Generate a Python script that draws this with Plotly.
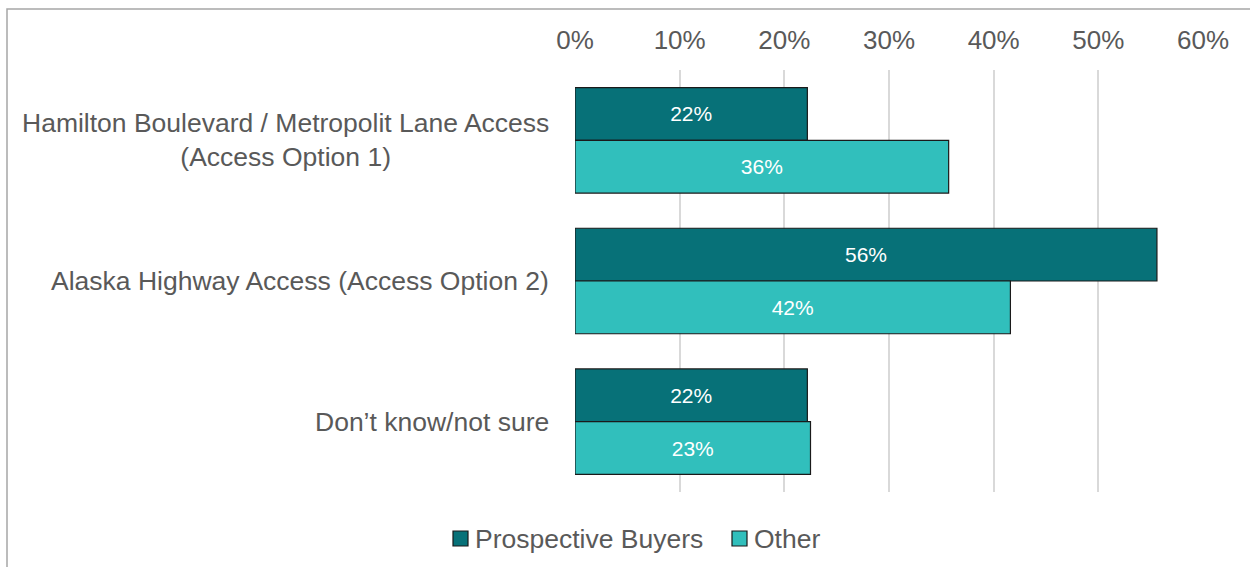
import plotly.graph_objects as go

# Survey results: preferred access option, split by respondent group
categories = [
    "Hamilton Boulevard / Metropolit Lane Access<br>(Access Option 1)",
    "Alaska Highway Access (Access Option 2)",
    "Don’t know/not sure",
]
series_names = ["Prospective Buyers", "Other"]
prospective_buyers = [22.2, 55.6, 22.2]
other = [35.7, 41.6, 22.5]
tick_values = [0, 10, 20, 30, 40, 50, 60]
tick_labels = ["0%", "10%", "20%", "30%", "40%", "50%", "60%"]

DARK = "#077178"
LIGHT = "#31BFBC"
TEXT_GRAY = "#595959"
FONT = "Liberation Sans, Arial, sans-serif"

# Plot-area geometry in pixels, used to place frame and legend in paper space
L, R, T, B = 575, 47, 70, 75
W, H = 1250, 567
PW, PH = W - L - R, H - T - B


def px_x(p):
    return (p - L) / PW


def px_y(p):
    return (H - B - p) / PH


fig = go.Figure()
for name, vals, color in zip(series_names, [prospective_buyers, other], [DARK, LIGHT]):
    fig.add_trace(go.Bar(
        name=name,
        y=categories,
        x=vals,
        orientation="h",
        marker=dict(color=color, line=dict(color="#1a1a1a", width=1.2)),
        text=vals,
        texttemplate="%{x:.0f}%",
        textposition="inside",
        insidetextanchor="middle",
        textangle=0,
        textfont=dict(color="white", size=21, family=FONT),
        hoverinfo="skip",
        showlegend=False,
    ))

# Category labels drawn as centred multi-line text, right-aligned to the axis
for cat in categories:
    fig.add_annotation(
        x=0, y=cat, xref="x", yref="y",
        text=cat, showarrow=False,
        xanchor="right", yanchor="middle", xshift=-24,
        align="center",
        font=dict(size=26.5, color=TEXT_GRAY, family=FONT),
    )

# Outer frame of the chart area
fig.add_shape(
    type="rect", xref="paper", yref="paper",
    x0=px_x(7), x1=px_x(1300), y0=px_y(600), y1=px_y(9),
    line=dict(color="#A6A6A6", width=1.5), fillcolor="rgba(0,0,0,0)",
    layer="below",
)

# Legend: outlined colour squares followed by series names
legend_items = [(series_names[0], DARK, 453), (series_names[1], LIGHT, 732)]
for name, color, left in legend_items:
    fig.add_shape(
        type="rect", xref="paper", yref="paper",
        x0=px_x(left), x1=px_x(left + 15), y0=px_y(546), y1=px_y(531),
        line=dict(color="#1a1a1a", width=1.2), fillcolor=color,
    )
    fig.add_annotation(
        x=px_x(left + 20), y=px_y(538.5), xref="paper", yref="paper",
        text=name, showarrow=False, xanchor="left", yanchor="middle",
        font=dict(size=26.5, color=TEXT_GRAY, family=FONT),
    )

fig.update_layout(
    width=W, height=H,
    margin=dict(l=L, r=R, t=T, b=B),
    paper_bgcolor="white", plot_bgcolor="white",
    barmode="group", bargap=0.25, bargroupgap=0,
    font=dict(family=FONT, color=TEXT_GRAY),
    xaxis=dict(
        side="top", range=[0, 60], tickvals=tick_values, ticktext=tick_labels,
        showgrid=True, gridcolor="#D9D9D9", gridwidth=1.5,
        zeroline=False, showline=False, ticks="",
        ticklabelstandoff=15,
        tickfont=dict(size=26, color=TEXT_GRAY, family=FONT),
        fixedrange=True,
    ),
    yaxis=dict(
        autorange="reversed", showticklabels=False, showgrid=False,
        zeroline=False, showline=False, ticks="", fixedrange=True,
    ),
    showlegend=False,
)

fig.write_html("out.html")
